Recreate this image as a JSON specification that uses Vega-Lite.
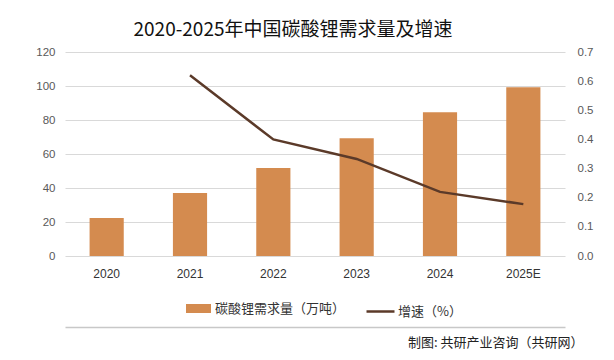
{
  "$schema": "https://vega.github.io/schema/vega-lite/v6.json",
  "width": 500,
  "height": 204,
  "autosize": {"type": "none"},
  "padding": {"left": 65, "top": 52, "right": 49, "bottom": 104},
  "background": "#ffffff",
  "title": {
    "text": "2020-2025年中国碳酸锂需求量及增速",
    "font": "Noto Sans CJK SC",
    "fontSize": 19,
    "fontWeight": "normal",
    "color": "#111111",
    "anchor": "middle",
    "dx": -22,
    "offset": 6
  },
  "config": {
    "view": {"stroke": null},
    "font": "Noto Sans CJK SC"
  },
  "data": {
    "values": [
      {"year": "2020", "demand": 22.4, "growth": null},
      {"year": "2021", "demand": 37.1, "growth": 0.62},
      {"year": "2022", "demand": 51.8, "growth": 0.40},
      {"year": "2023", "demand": 69.3, "growth": 0.333},
      {"year": "2024", "demand": 84.6, "growth": 0.22},
      {"year": "2025E", "demand": 99.2, "growth": 0.178}
    ]
  },
  "layer": [
    {
      "mark": {"type": "bar", "color": "#D48B4F"},
      "encoding": {
        "x": {
          "field": "year",
          "type": "nominal",
          "sort": null,
          "scale": {"type": "band", "domain": ["2020", "2021", "2022", "2023", "2024", "2025E"], "paddingInner": 0.59, "paddingOuter": 0.295},
          "axis": {
            "orient": "bottom",
            "title": null,
            "labelAngle": 0,
            "labelFont": "Liberation Sans",
            "labelFontSize": 12,
            "labelColor": "#333333",
            "labelPadding": 12,
            "ticks": false,
            "domain": false,
            "grid": false
          }
        },
        "y": {
          "field": "demand",
          "type": "quantitative",
          "scale": {"domain": [0, 120]},
          "axis": {
            "orient": "left",
            "title": null,
            "values": [0, 20, 40, 60, 80, 100, 120],
            "labelFont": "Liberation Sans",
            "labelFontSize": 11.5,
            "labelColor": "#595959",
            "labelPadding": 10,
            "ticks": false,
            "domain": false,
            "grid": true,
            "gridColor": "#D9D9D9",
            "gridWidth": 1
          }
        },
        "fill": {
          "datum": "碳酸锂需求量（万吨）",
          "type": "nominal",
          "scale": {"range": ["#D48B4F"]},
          "legend": {
            "orient": "none",
            "legendX": 121,
            "legendY": 244,
            "title": null,
            "symbolType": "M-1,-0.36H1V0.36H-1Z",
            "symbolSize": 625,
            "symbolStrokeWidth": 0,
            "labelFont": "Noto Sans CJK SC",
            "labelFontSize": 13,
            "labelColor": "#333333",
            "labelOffset": 4
          }
        }
      }
    },
    {
      "mark": {"type": "line", "strokeWidth": 2.5, "color": "#5B3A29"},
      "encoding": {
        "x": {
          "field": "year",
          "type": "nominal",
          "sort": null,
          "scale": {"type": "band", "domain": ["2020", "2021", "2022", "2023", "2024", "2025E"], "paddingInner": 0.59, "paddingOuter": 0.295},
          "axis": {
            "orient": "bottom",
            "offset": 71,
            "labels": false,
            "ticks": false,
            "grid": false,
            "domain": true,
            "domainColor": "#C8C8C8",
            "domainWidth": 1.5,
            "domainOpacity": 1,
            "title": "制图: 共研产业咨询（共研网）",
            "titleFont": "Noto Sans CJK SC",
            "titleFontSize": 13,
            "titleFontWeight": "normal",
            "titleColor": "#222222",
            "titleAnchor": "end",
            "titleAlign": "right",
            "titleX": 518,
            "titlePadding": 9
          }
        },
        "y": {
          "field": "growth",
          "type": "quantitative",
          "scale": {"domain": [0, 0.7]},
          "axis": {
            "orient": "right",
            "title": null,
            "values": [0, 0.1, 0.2, 0.3, 0.4, 0.5, 0.6, 0.7],
            "format": ".1f",
            "labelFont": "Liberation Sans",
            "labelFontSize": 11.5,
            "labelColor": "#595959",
            "labelPadding": 12,
            "ticks": false,
            "domain": false,
            "grid": false
          }
        },
        "stroke": {
          "datum": "增速（%）",
          "type": "nominal",
          "scale": {"range": ["#5B3A29"]},
          "legend": {
            "orient": "none",
            "legendX": 300,
            "legendY": 244,
            "title": null,
            "symbolType": "stroke",
            "symbolSize": 784,
            "symbolStrokeWidth": 2.5,
            "labelFont": "Noto Sans CJK SC",
            "labelFontSize": 13,
            "labelColor": "#333333",
            "labelOffset": 2
          }
        }
      }
    }
  ],
  "resolve": {
    "scale": {"x": "independent", "y": "independent", "fill": "independent", "stroke": "independent"},
    "axis": {"x": "independent"}
  }
}
